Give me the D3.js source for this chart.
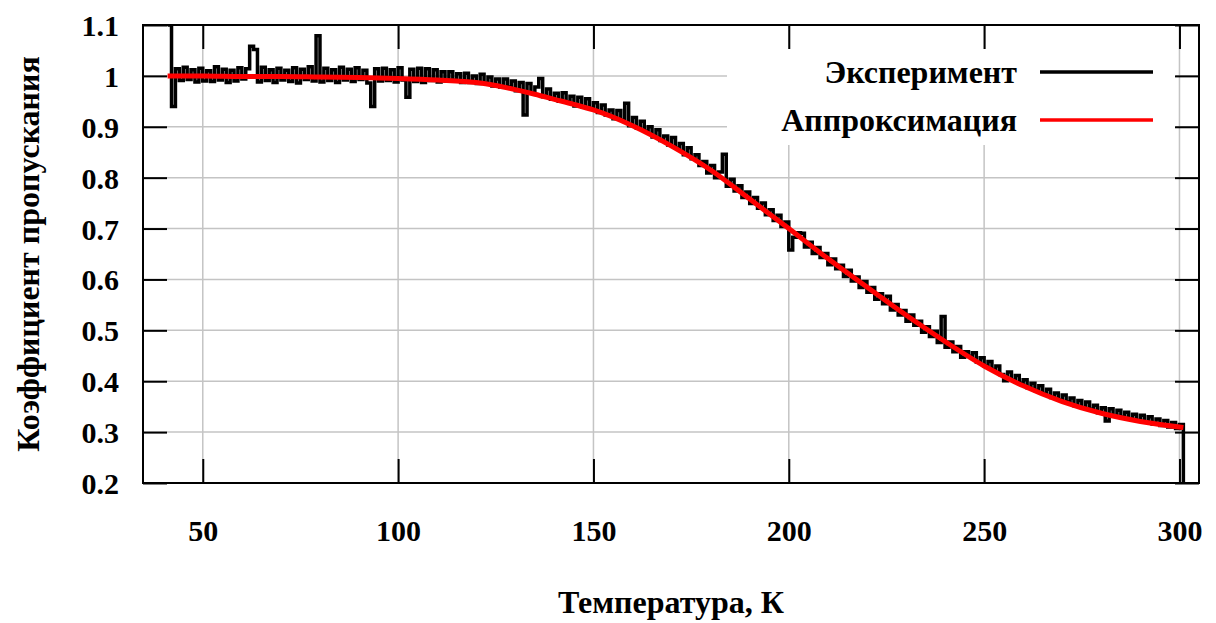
<!DOCTYPE html>
<html><head><meta charset="utf-8">
<script src="https://cdn.jsdelivr.net/npm/d3@7"></script>
<style>
html,body{margin:0;padding:0;background:#fff;}
svg{display:block;}
</style></head>
<body>
<svg id="chart" width="1216" height="623"></svg>
<script>
// ---- data ----
const xTicks = [50, 100, 150, 200, 250, 300];
const yTicks = [0.2, 0.3, 0.4, 0.5, 0.6, 0.7, 0.8, 0.9, 1.0, 1.1];
const yTickLabels = ["0.2","0.3","0.4","0.5","0.6","0.7","0.8","0.9","1","1.1"];
const seriesNames = ["Эксперимент", "Аппроксимация"];
const xTitle = "Температура, К";
const yTitle = "Коэффициент пропускания";
const expStartT = 41;
const expV = [
 1.100,0.940,1.014,0.991,1.017,0.993,1.012,0.988,1.015,0.990,
 1.010,0.989,1.018,0.992,1.013,0.987,1.011,0.990,1.016,0.994,
 1.014,1.058,1.052,0.988,1.017,0.991,1.012,0.987,1.015,0.992,
 1.011,0.989,1.016,0.986,1.013,0.993,1.018,0.990,1.079,0.988,
 1.015,0.991,1.012,0.987,1.017,0.992,1.013,0.989,1.016,0.993,
 1.011,0.986,0.940,1.014,0.990,1.015,0.991,1.012,0.988,1.016,
 0.992,0.958,1.013,0.989,1.015,0.987,1.014,0.991,1.012,0.988,
 1.008,0.990,1.008,0.991,1.004,0.987,1.005,0.987,1.000,0.985,
 1.003,0.986,0.998,0.980,0.994,0.978,0.994,0.978,0.990,0.971,
 0.987,0.923,0.985,0.967,0.978,0.995,0.959,0.974,0.954,0.966,
 0.950,0.967,0.949,0.960,0.941,0.958,0.939,0.955,0.936,0.947,
 0.928,0.943,0.923,0.933,0.916,0.932,0.913,0.946,0.902,0.918,
 0.897,0.911,0.891,0.900,0.880,0.894,0.873,0.882,0.864,0.879,
 0.858,0.867,0.845,0.859,0.837,0.845,0.824,0.832,0.809,0.824,
 0.800,0.811,0.846,0.783,0.797,0.774,0.784,0.761,0.772,0.749,
 0.761,0.740,0.750,0.727,0.737,0.716,0.726,0.704,0.713,0.658,
 0.683,0.692,0.691,0.664,0.673,0.651,0.663,0.643,0.651,0.629,
 0.640,0.621,0.628,0.606,0.618,0.597,0.605,0.584,0.596,0.575,
 0.584,0.561,0.572,0.552,0.567,0.540,0.551,0.530,0.539,0.518,
 0.530,0.510,0.518,0.496,0.507,0.488,0.498,0.476,0.527,0.467,
 0.477,0.458,0.468,0.447,0.458,0.449,0.456,0.438,0.446,0.430,
 0.439,0.423,0.430,0.413,0.401,0.418,0.402,0.411,0.396,0.403,
 0.387,0.396,0.382,0.391,0.376,0.384,0.368,0.377,0.363,0.373,
 0.359,0.367,0.352,0.362,0.348,0.359,0.345,0.353,0.338,0.348,
 0.322,0.346,0.332,0.343,0.329,0.339,0.326,0.335,0.323,0.333,
 0.320,0.330,0.316,0.326,0.313,0.323,0.310,0.319,0.307,0.315,
 0.180
];
const fitT = [41,50,60,70,80,90,100,110,120,125,130,135,140,145,150,160,170,180,190,200,210,220,230,240,250,260,270,280,290,301];
const fitV = [1.000,1.000,0.999,0.999,0.998,0.997,0.995,0.992,0.987,0.981,0.973,0.964,0.954,0.944,0.933,0.902,0.862,0.815,0.758,0.700,0.641,0.585,0.530,0.478,0.430,0.391,0.360,0.337,0.321,0.309];

// ---- layout ----
const L = 143, R = 1199, T = 25, B = 483;
const FONT = 'font-family:"Liberation Serif","Times New Roman",serif;font-weight:bold;fill:#000;';
const fs = n => FONT + `font-size:${n}px;`;
const svg = d3.select("#chart");
const x = d3.scaleLinear().domain([34.7, 305]).range([L, R]);
const y = d3.scaleLinear().domain([0.2, 1.1]).range([B, T]);

const expData = expV.map((v, i) => ({t: expStartT + i, v}));
const fitData = fitT.map((t, i) => ({t, v: fitV[i]}));

// grid
const grid = svg.append("g").attr("stroke", "#c4c4c4").attr("stroke-width", 1.5);
grid.selectAll("line.gx").data(xTicks).join("line")
  .attr("x1", d => x(d)).attr("x2", d => x(d)).attr("y1", T).attr("y2", B);
grid.selectAll("line.gy").data(yTicks.slice(1, -1)).join("line")
  .attr("y1", d => y(d)).attr("y2", d => y(d)).attr("x1", L).attr("x2", R);

// legend background box (covers grid)
svg.append("rect").attr("x", 727).attr("y", 49).attr("width", 449).attr("height", 96).attr("fill", "#fff");

// clip
svg.append("clipPath").attr("id", "clip").append("rect")
  .attr("x", L).attr("y", T).attr("width", R - L).attr("height", B - T);

const plot = svg.append("g").attr("clip-path", "url(#clip)");
plot.append("path").datum(expData)
  .attr("fill", "none").attr("stroke", "#000").attr("stroke-width", 3.5)
  .attr("d", d3.line().x(d => x(d.t)).y(d => y(d.v)).curve(d3.curveStepAfter));
plot.append("path").datum(fitData)
  .attr("fill", "none").attr("stroke", "#ff0000").attr("stroke-width", 5)
  .attr("d", d3.line().x(d => x(d.t)).y(d => y(d.v)).curve(d3.curveMonotoneX));

// axes (inward ticks, mirrored)
const TS = 24;
const axB = svg.append("g").attr("transform", `translate(0,${B})`)
  .call(d3.axisBottom(x).tickValues(xTicks).tickSize(-TS).tickPadding(37).tickFormat(d3.format("d")));
const axL = svg.append("g").attr("transform", `translate(${L},0)`)
  .call(d3.axisLeft(y).tickValues(yTicks).tickSize(-TS).tickPadding(24).tickFormat((d, i) => yTickLabels[i]));
const axT = svg.append("g").attr("transform", `translate(0,${T})`)
  .call(d3.axisTop(x).tickValues(xTicks).tickSize(-TS).tickFormat(""));
const axR = svg.append("g").attr("transform", `translate(${R},0)`)
  .call(d3.axisRight(y).tickValues(yTicks).tickSize(-TS).tickFormat(""));
[axB, axL, axT, axR].forEach(a => {
  a.attr("font-family", null).attr("font-size", null);
  a.select(".domain").remove();
  a.selectAll(".tick line").attr("stroke", "#000").attr("stroke-width", 2);
  a.selectAll("text").attr("style", fs(30));
});
axL.selectAll("text").attr("dy", "0.35em");

// frame
svg.append("rect").attr("x", L).attr("y", T).attr("width", R - L).attr("height", B - T)
  .attr("fill", "none").attr("stroke", "#000").attr("stroke-width", 2);

// legend
const legY = [72, 120];
const legC = ["#000", "#ff0000"];
seriesNames.forEach((n, i) => {
  svg.append("text").attr("x", 1017).attr("y", legY[i]).attr("dy", "0.35em")
    .attr("text-anchor", "end").attr("style", fs(32)).text(n);
  svg.append("line").attr("x1", 1040).attr("x2", 1153).attr("y1", legY[i]).attr("y2", legY[i])
    .attr("stroke", legC[i]).attr("stroke-width", 3.5);
});

// axis titles
svg.append("text").attr("x", (L + R) / 2).attr("y", 613).attr("text-anchor", "middle")
  .attr("style", fs(32)).text(xTitle);
svg.append("text").attr("transform", `translate(39,${(T + B) / 2}) rotate(-90)`)
  .attr("text-anchor", "middle").attr("style", fs(32)).text(yTitle);
</script>
</body></html>
